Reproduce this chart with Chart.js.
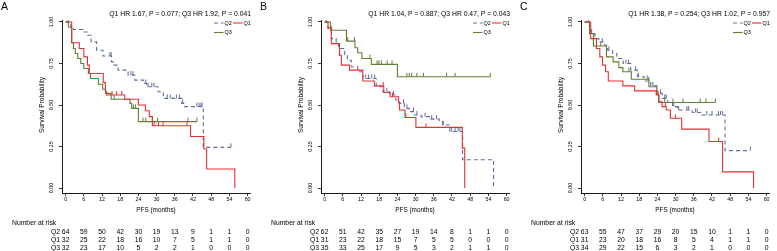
<!DOCTYPE html>
<html><head><meta charset="utf-8">
<script src="https://cdn.jsdelivr.net/npm/chart.js@4/dist/chart.umd.min.js"></script>
<style>
html,body{margin:0;padding:0;background:#fff;overflow:hidden;width:777px;height:251px;position:relative}
.p{position:absolute;top:0;width:259px;height:251px}
canvas{display:block}
</style></head><body>
<div class="p" style="left:0px"><canvas id="cA" width="259" height="251"></canvas></div>
<div class="p" style="left:259px"><canvas id="cB" width="259" height="251"></canvas></div>
<div class="p" style="left:519px"><canvas id="cC" width="259" height="251"></canvas></div>
<script>
// ---------- shared axis data ----------
const timeTicks = [0,6,12,18,24,30,36,42,48,54,60];
const survTicks = [0,0.25,0.5,0.75,1];
const survTickLabels = ['0.00','0.25','0.50','0.75','1.00'];
const groupNames = ['Q2','Q1','Q3'];
const xTitle = 'PFS (months)';
const yTitle = 'Survival Probability';
const riskTitle = 'Number at risk';

// ---------- Panel A ----------
const A_note = 'Q1 HR 1.67, P = 0.077; Q3 HR 1.92, P = 0.041';
const A_Q2_time = [0,1.7,2.6,5.7,7.3,8.4,10.2,12.3,15.1,15.7,17.3,20.6,22.8,25.6,26.7,30.5,32.2,38.3,39.3,45.4,54.5];
const A_Q2_surv = [1,0.965,0.955,0.94,0.92,0.88,0.83,0.795,0.76,0.74,0.71,0.68,0.65,0.63,0.61,0.58,0.54,0.51,0.49,0.245,0.245];
const A_Q2_cens = [0.8,14.6,15.0,21.5,22.2,26.4,27.2,28.4,29.1,33.5,34.5,36.5,37.5,38.6,43.3,44.0,44.6,45.0,54.5];
const A_Q1_time = [0,2.0,4.5,6.0,7.2,7.8,12.4,13.1,13.5,19.5,24.0,26.3,27.6,28.6,41.2,45.6,46.5,55.8];
const A_Q1_surv = [1,0.875,0.84,0.79,0.74,0.69,0.635,0.58,0.56,0.535,0.50,0.465,0.43,0.375,0.31,0.235,0.115,0];
const A_Q1_cens = [15.3,16.8,18.5,29.2,30.6,32.1,40.0];
const A_Q3_time = [0,0.9,2.0,2.6,3.2,4.0,5.0,6.0,7.5,8.2,10.8,12.2,13.2,15.0,21.2,21.8,24.0,43.3];
const A_Q3_surv = [1,0.97,0.875,0.84,0.81,0.78,0.75,0.72,0.69,0.66,0.625,0.595,0.57,0.535,0.51,0.48,0.40,0.40];
const A_Q3_cens = [16.0,22.3,23.0,25.5,26.4,28.6,30.3,40.3,43.3];
const A_Q2_risk = [64,59,50,42,30,19,13,9,1,1,0];
const A_Q1_risk = [32,25,22,18,16,10,7,5,1,1,0];
const A_Q3_risk = [32,23,17,10,5,2,2,1,0,0,0];

// ---------- Panel B ----------
const B_note = 'Q1 HR 1.04, P = 0.887; Q3 HR 0.47, P = 0.043';
const B_Q2_time = [0,1.1,2.2,3.8,4.6,6.6,7.5,8.8,10.9,12.6,17.0,19.2,21.4,23.5,24.6,26.3,27.9,29.6,31.8,35.1,37.8,38.9,41.3,45.5,55.7];
const B_Q2_surv = [1,0.96,0.90,0.87,0.84,0.80,0.77,0.73,0.70,0.66,0.61,0.58,0.56,0.53,0.51,0.48,0.46,0.44,0.43,0.415,0.40,0.38,0.34,0.17,0];
const B_Q2_cens = [0.5,13.5,14.5,15.5,16.5,20.5,22.7,26.0,27.1,29.3,30.4,33.1,35.3,36.9,39.1,41.9,43.0,44.0,44.6];
const B_Q1_time = [0,1.1,2.2,4.9,5.5,8.2,12.6,16.4,19.5,21.6,24.4,24.7,26.5,30.1,45.4,46.2];
const B_Q1_surv = [1,0.965,0.87,0.80,0.74,0.71,0.645,0.615,0.575,0.55,0.515,0.47,0.425,0.365,0.24,0];
const B_Q1_cens = [19.3,22.4,26.8,33.4];
const B_Q3_time = [0,1.9,7.2,10.0,10.9,12.3,15.4,24.0,54.6];
const B_Q3_surv = [1,0.95,0.885,0.845,0.815,0.78,0.745,0.67,0.67];
const B_Q3_cens = [2.3,7.6,9.8,14.9,17.3,17.9,18.7,20.6,22.2,27.1,27.9,28.7,30.4,32.6,40.2,43.0,54.6];
const B_Q2_risk = [62,51,42,35,27,19,14,8,1,1,0];
const B_Q1_risk = [31,23,22,18,15,7,5,5,0,0,0];
const B_Q3_risk = [35,33,25,17,9,5,3,2,1,1,0];

// ---------- Panel C ----------
const C_note = 'Q1 HR 1.38, P = 0.254; Q3 HR 1.02, P = 0.957';
const C_Q2_time = [0,1.6,2.3,3.4,4.7,6.6,7.6,9.2,10.6,12.7,15.2,17.4,19.6,21.8,23.9,25.6,27.4,29.0,30.6,35.5,38.6,46.3,54.6];
const C_Q2_surv = [1,0.97,0.93,0.90,0.88,0.86,0.83,0.81,0.78,0.75,0.71,0.67,0.645,0.615,0.57,0.54,0.515,0.49,0.47,0.455,0.44,0.225,0.225];
const C_Q2_cens = [1.3,5.8,8.0,13.6,14.5,16.8,17.8,21.1,22.5,25.0,26.4,26.9,29.4,31.0,33.7,34.3,36.5,37.1,40.3,42.0,44.1,44.8,45.5,54.6];
const C_Q1_time = [0,2.0,3.9,5.0,5.9,6.9,7.8,12.6,16.5,23.6,24.5,25.5,26.9,28.3,32.0,41.0,45.5,55.7];
const C_Q1_surv = [1,0.90,0.84,0.79,0.74,0.70,0.645,0.615,0.585,0.56,0.52,0.49,0.47,0.42,0.355,0.28,0.097,0];
const C_Q1_cens = [24.2,26.6,29.9,44.2];
const C_Q3_time = [0,1.6,2.9,7.2,9.4,11.3,12.6,15.4,21.2,23.8,24.4,43.1];
const C_Q3_surv = [1,0.93,0.855,0.79,0.76,0.725,0.70,0.655,0.61,0.565,0.515,0.515];
const C_Q3_cens = [5.3,14.6,20.6,26.4,29.1,32.4,38.1,40.0,43.1];
const C_Q2_risk = [63,55,47,37,29,20,15,10,1,1,0];
const C_Q1_risk = [31,23,20,18,16,8,5,4,1,1,0];
const C_Q3_risk = [34,29,22,15,6,3,2,1,0,0,0];

// ---------- styling ----------
const FF = '"Liberation Sans", Arial, Helvetica, sans-serif';
const COL = {Q2:'#5f6f9c', Q1:'#e5302f', Q3:'#5f7f33'};
const DASH = {Q2:[4,3], Q1:[], Q3:[]};

function survAt(times, surv, t){
  let v = surv[0];
  for (let i=0;i<times.length;i++){ if (times[i] <= t) v = surv[i]; }
  return v;
}
function tickImg(color){
  const c = document.createElement('canvas'); c.width = 3; c.height = 10;
  const g = c.getContext('2d'); g.fillStyle = color; g.fillRect(1,1,1,4);
  return c;
}

function makePanel(id, letter, note, series){
  const datasets = [];
  series.forEach(s => {
    datasets.push({
      type:'line', label:s.name,
      data: s.time.map((t,i)=>({x:t, y:s.surv[i]})),
      stepped:true, borderColor:COL[s.name], borderWidth:1.1, borderDash:DASH[s.name],
      pointRadius:0, fill:false, tension:0, order:s.order
    });
    datasets.push({
      type:'scatter', label:s.name+' censored',
      data: s.cens.map(t=>({x:t, y:survAt(s.time, s.surv, t)})),
      pointStyle: tickImg(COL[s.name]), pointRadius:3, order:s.order
    });
  });

  const deco = {
    id:'deco',
    afterDraw(chart){
      const ctx = chart.ctx, xs = chart.scales.x, ys = chart.scales.y;
      ctx.save();
      ctx.fillStyle = '#000';
      // panel letter
      ctx.font = '10.5px '+FF; ctx.textAlign='left'; ctx.textBaseline='middle';
      ctx.fillText(letter, 1, 7);
      // note
      ctx.font = '6.8px '+FF; ctx.textAlign='right';
      ctx.fillText(note, 251, 14);
      // legend
      const legItems = [
        {name:'Q2', x:214, y:23}, {name:'Q1', x:233, y:23}, {name:'Q3', x:214, y:32.5}
      ];
      ctx.font = '5.5px '+FF; ctx.textAlign='left';
      legItems.forEach(it=>{
        ctx.strokeStyle = COL[it.name]; ctx.lineWidth = 1.1; ctx.setLineDash(DASH[it.name]);
        ctx.beginPath(); ctx.moveTo(it.x, it.y); ctx.lineTo(it.x+9.5, it.y); ctx.stroke();
        ctx.setLineDash([]);
        ctx.fillStyle = '#000';
        ctx.fillText(it.name, it.x+10.5, it.y+0.3);
      });
      // y tick labels (rotated)
      ctx.font = '5.3px '+FF;
      survTicks.forEach((v,i)=>{
        const py = ys.getPixelForValue(v);
        ctx.save(); ctx.translate(52, py); ctx.rotate(-Math.PI/2);
        ctx.textAlign='center'; ctx.textBaseline='middle';
        ctx.fillText(survTickLabels[i], 0, 0); ctx.restore();
      });
      // y title
      ctx.font = '6.6px '+FF;
      ctx.save(); ctx.translate(42, (ys.getPixelForValue(0)+ys.getPixelForValue(1))/2); ctx.rotate(-Math.PI/2);
      ctx.textAlign='center'; ctx.textBaseline='middle'; ctx.fillText(yTitle,0,0); ctx.restore();
      // x title
      ctx.font = '6.4px '+FF; ctx.textAlign='center'; ctx.textBaseline='middle';
      ctx.fillText(xTitle, (chart.chartArea.left+chart.chartArea.right)/2, 210);
      // risk table
      ctx.font = '6.8px '+FF; ctx.textAlign='left';
      ctx.fillText(riskTitle, 12, 223);
      const rowY = [232, 240, 248];
      series.forEach((s,r)=>{
        ctx.textAlign='right'; ctx.fillText(s.name, 60, rowY[r]);
        ctx.textAlign='center';
        s.risk.forEach((n,k)=>{ ctx.fillText(String(n), xs.getPixelForValue(timeTicks[k]), rowY[r]); });
      });
      ctx.restore();
    }
  };

  new Chart(document.getElementById(id), {
    type:'line',
    data:{datasets},
    options:{
      responsive:false, animation:false, devicePixelRatio:1,
      layout:{padding:{left:0, right:9, top:20, bottom:0}},
      plugins:{legend:{display:false}, tooltip:{enabled:false}},
      scales:{
        x:{
          type:'linear', min:-1.2, max:60.8,
          afterBuildTicks: sc => { sc.ticks = timeTicks.map(v=>({value:v})); },
          afterFit: sc => { sc.height = 58; },
          grid:{drawOnChartArea:false, drawTicks:true, tickLength:3, color:'#000', lineWidth:0.8},
          border:{display:true, color:'#000', width:0.9},
          ticks:{font:{family:FF, size:5.3}, color:'#000', padding:0, maxRotation:0, minRotation:0, autoSkip:false},
          title:{display:false}
        },
        y:{
          type:'linear', min:-0.03, max:1.012,
          afterBuildTicks: sc => { sc.ticks = survTicks.map(v=>({value:v})); },
          afterFit: sc => { sc.width = 62; },
          grid:{drawOnChartArea:false, drawTicks:true, tickLength:3, color:'#000', lineWidth:0.8},
          border:{display:true, color:'#000', width:0.9},
          ticks:{display:false},
          title:{display:false}
        }
      }
    },
    plugins:[deco]
  });
}

makePanel('cA','A',A_note,[
  {name:'Q2', time:A_Q2_time, surv:A_Q2_surv, cens:A_Q2_cens, risk:A_Q2_risk, order:3},
  {name:'Q1', time:A_Q1_time, surv:A_Q1_surv, cens:A_Q1_cens, risk:A_Q1_risk, order:1},
  {name:'Q3', time:A_Q3_time, surv:A_Q3_surv, cens:A_Q3_cens, risk:A_Q3_risk, order:2}
]);
makePanel('cB','B',B_note,[
  {name:'Q2', time:B_Q2_time, surv:B_Q2_surv, cens:B_Q2_cens, risk:B_Q2_risk, order:3},
  {name:'Q1', time:B_Q1_time, surv:B_Q1_surv, cens:B_Q1_cens, risk:B_Q1_risk, order:1},
  {name:'Q3', time:B_Q3_time, surv:B_Q3_surv, cens:B_Q3_cens, risk:B_Q3_risk, order:2}
]);
makePanel('cC','C',C_note,[
  {name:'Q2', time:C_Q2_time, surv:C_Q2_surv, cens:C_Q2_cens, risk:C_Q2_risk, order:3},
  {name:'Q1', time:C_Q1_time, surv:C_Q1_surv, cens:C_Q1_cens, risk:C_Q1_risk, order:1},
  {name:'Q3', time:C_Q3_time, surv:C_Q3_surv, cens:C_Q3_cens, risk:C_Q3_risk, order:2}
]);
</script>
</body></html>
